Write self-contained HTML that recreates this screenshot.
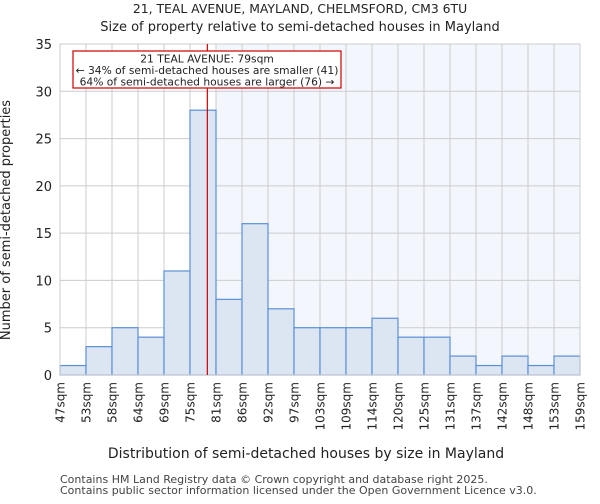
<!DOCTYPE html>
<html><head><meta charset="utf-8"><style>
body{margin:0;background:#fff;font-family:"DejaVu Sans","Liberation Sans",sans-serif;}
</style></head><body>
<svg id="chart" width="600" height="500" xmlns="http://www.w3.org/2000/svg" font-family="DejaVu Sans, Liberation Sans, sans-serif">
<text x="300" y="13" text-anchor="middle" font-size="12.4" fill="#222">21, TEAL AVENUE, MAYLAND, CHELMSFORD, CM3 6TU</text>
<text x="300" y="31" text-anchor="middle" font-size="13" fill="#222">Size of property relative to semi-detached houses in Mayland</text>
<g id="plot"></g>
<text x="306" y="458" text-anchor="middle" font-size="14" fill="#222">Distribution of semi-detached houses by size in Mayland</text>
<text transform="translate(10,220) rotate(-90)" text-anchor="middle" font-size="13" fill="#222">Number of semi-detached properties</text>
<text x="60" y="483" font-size="11" fill="#444">Contains HM Land Registry data © Crown copyright and database right 2025.</text>
<text x="60" y="494" font-size="11" fill="#444">Contains public sector information licensed under the Open Government Licence v3.0.</text>
</svg>
<script>
const binLabels=["47sqm","53sqm","58sqm","64sqm","69sqm","75sqm","81sqm","86sqm","92sqm","97sqm","103sqm","109sqm","114sqm","120sqm","125sqm","131sqm","137sqm","142sqm","148sqm","153sqm","159sqm"];
const counts=[1,3,5,4,11,28,8,16,7,5,5,5,6,4,4,2,1,2,1,2];
const yTicks=[0,5,10,15,20,25,30,35];
const binEdges=[47,53,58,64,69,75,81,86,92,97,103,109,114,120,125,131,137,142,148,153,159];
const propertySize=79;
const propertyBin=5;
const L=60,R=580,T=44,B=375,yMax=35;
const NS="http://www.w3.org/2000/svg";
const g=document.getElementById('plot');
const bw=(R-L)/counts.length;
const x=i=>L+i*bw;
const y=v=>B-(v/yMax)*(B-T);
function mk(t,a){const e=document.createElementNS(NS,t);for(const k in a)e.setAttribute(k,a[k]);g.appendChild(e);return e;}
const shadeX=x(propertyBin+1);
const sh=mk('rect',{x:shadeX,y:T,width:R-shadeX,height:B-T,fill:'#f3f6fd'});


yTicks.forEach(t=>{
 const l=mk('line',{x1:L,x2:R,y1:y(t),y2:y(t),stroke:'#ccc','stroke-width':1});
 
 
 const tx=mk('text',{x:L-8,y:y(t)+5,'text-anchor':'end','font-size':13,fill:'#222'});
 tx.textContent=t;
 
 
});
binLabels.forEach((lab,i)=>{
 const l=mk('line',{x1:x(i),x2:x(i),y1:T,y2:B,stroke:'#ccc','stroke-width':1});
 
 
 const tx=mk('text',{transform:`translate(${x(i)+4.5},382) rotate(-90)`,'text-anchor':'end','font-size':12,fill:'#222'});
 tx.textContent=lab;
 
 
});
counts.forEach((c,i)=>{
 const r=mk('rect',{x:x(i),y:y(c),width:bw,height:B-y(c),fill:'#dce6f2',stroke:'#5b8fd6','stroke-width':1.2});
 
 
});
const ax=mk('rect',{x:L,y:T,width:R-L,height:B-T,fill:'none',stroke:'#ccc'});


const pf=(propertySize-binEdges[propertyBin])/(binEdges[propertyBin+1]-binEdges[propertyBin]);
const rx=x(propertyBin)+pf*bw;
const rl=mk('line',{x1:rx,x2:rx,y1:T,y2:B,stroke:'#cc0000','stroke-width':1.2});


const box=mk('rect',{x:73,y:51,width:268,height:37,fill:'#fff',stroke:'#cc0000','stroke-width':1.2});


["21 TEAL AVENUE: 79sqm","← 34% of semi-detached houses are smaller (41)","64% of semi-detached houses are larger (76) →"].forEach((s,i)=>{
 const t=mk('text',{x:207,y:62.5+i*11.5,'text-anchor':'middle','font-size':10.7,fill:'#222'});
 t.textContent=s;
 
 
});
</script>
</body></html>
